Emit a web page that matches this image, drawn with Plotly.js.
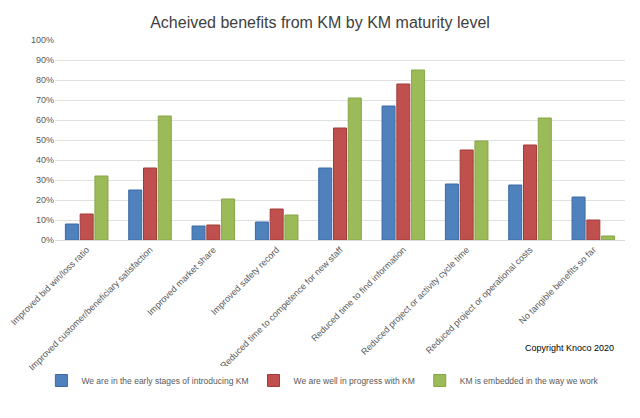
<!DOCTYPE html>
<html>
<head>
<meta charset="utf-8">
<script src="https://cdn.plot.ly/plotly-3.0.1.min.js"></script>
<style>body{margin:0;} #chart{width:640px;height:418px;}</style>
</head>
<body>
<div id="chart"></div>
<script>
var categories = [
  "Improved bid win/loss ratio",
  "Improved customer/beneficiary satisfaction",
  "Improved market share",
  "Improved safety record",
  "Reduced time to competence for new staff",
  "Reduced time to find information",
  "Reduced project or activity cycle time",
  "Reduced project or operational costs",
  "No tangible benefits so far"
];
var early = [0.08, 0.25, 0.07, 0.09, 0.36, 0.67, 0.28, 0.275, 0.215];
var progress = [0.13, 0.36, 0.075, 0.155, 0.56, 0.78, 0.45, 0.475, 0.10];
var embedded = [0.32, 0.62, 0.205, 0.125, 0.71, 0.85, 0.495, 0.61, 0.02];

function bar(name, y, color, line) {
  return {x: categories, y: y, name: name, type: "bar",
    marker: {color: color, line: {color: line, width: 1}}};
}

var data = [
  bar("We are in the early stages of introducing KM", early, "#4f81bd", "#3a6aa3"),
  bar("We are well in progress with KM", progress, "#c0504d", "#a33b38"),
  bar("KM is embedded in the way we work", embedded, "#9bbb59", "#86a546")
];

var layout = {
  width: 640, height: 418,
  paper_bgcolor: "#fff", plot_bgcolor: "#fff",
  font: {family: "Liberation Sans, Arial, sans-serif", size: 9, color: "#595959"},
  title: {text: "Acheived benefits from KM by KM maturity level", x: 0.5, y: 0.96,
    font: {family: "Liberation Sans, Arial, sans-serif", size: 16, color: "#404040"}},
  margin: {l: 55, r: 15, t: 40, b: 178},
  bargap: 0.3, bargroupgap: 0.12,
  xaxis: {tickangle: -45, showline: true, linecolor: "#d9d9d9", ticks: "",
    automargin: false, tickfont: {size: 9, color: "#595959"}},
  yaxis: {range: [0, 1], dtick: 0.1, tickformat: ".0%", gridcolor: "#e0e0e0",
    zeroline: false, automargin: false, tickfont: {size: 9, color: "#595959"}},
  legend: {orientation: "h", x: 0.47, xanchor: "center", y: -0.63, yanchor: "top",
    itemwidth: 30, tracegroupgap: 0, font: {size: 8.5, color: "#595959"}},
  annotations: [{text: "Copyright Knoco 2020", xref: "paper", yref: "paper",
    x: 0.985, y: -0.575, xanchor: "right", showarrow: false,
    font: {size: 9, color: "#000"}}]
};

Plotly.newPlot("chart", data, layout, {displayModeBar: false});
</script>
</body>
</html>
